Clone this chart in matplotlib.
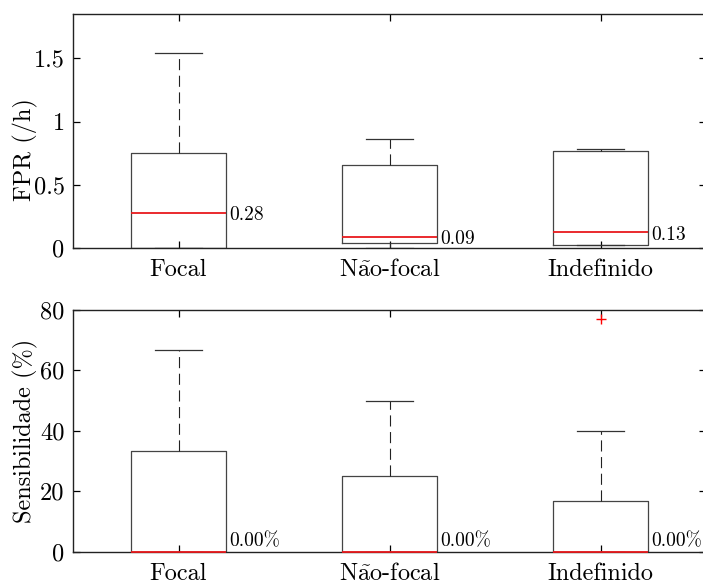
import matplotlib
matplotlib.use("Agg")
import matplotlib.pyplot as plt

# categories and box statistics
groups = ["Focal", "N$\\tilde{\\mathrm{a}}$o-focal", "Indefinido"]

fpr_q1 = [0.0, 0.042, 0.021]
fpr_med = [0.28, 0.09, 0.125]
fpr_q3 = [0.75, 0.66, 0.768]
fpr_lo = [0.0, 0.0, 0.021]
fpr_hi = [1.545, 0.86, 0.784]
fpr_fliers = [[], [], []]
fpr_labels = ["0.28", "0.09", "0.13"]

sens_q1 = [0.0, 0.0, 0.0]
sens_med = [0.0, 0.0, 0.0]
sens_q3 = [33.33, 25.0, 16.67]
sens_lo = [0.0, 0.0, 0.0]
sens_hi = [66.67, 50.0, 40.0]
sens_fliers = [[], [], [77.0]]
sens_labels = ["0.00%", "0.00%", "0.00%"]

plt.rcParams["font.family"] = ["cmr10", "DejaVu Serif"]
plt.rcParams["mathtext.fontset"] = "cm"
plt.rcParams["axes.formatter.use_mathtext"] = True

W, H = 703, 588
fig = plt.figure(figsize=(W / 100, H / 100), dpi=100)

pos = [1, 2, 3]
bw = 0.45
fs = 17.5


def make_stats(q1, med, q3, lo, hi, fl):
    stats = []
    for i in range(len(q1)):
        stats.append(dict(q1=q1[i], med=med[i], q3=q3[i], whislo=lo[i],
                          whishi=hi[i], fliers=fl[i]))
    return stats


def draw_panel(ax, stats):
    out = ax.bxp(stats, positions=pos, widths=bw, capwidths=0.22,
                 showfliers=True,
                 boxprops=dict(color="#444444", linewidth=0.9),
                 medianprops=dict(color="#e8191c", linewidth=1.3, zorder=4),
                 whiskerprops=dict(color="#222222", linewidth=0.8,
                                   linestyle=(0, (10, 5))),
                 capprops=dict(color="#333333", linewidth=0.9),
                 flierprops=dict(marker="+", markeredgecolor="red",
                                 markersize=7, linestyle="none"))
    for m in out["medians"]:
        m.set_clip_on(False)
    ax.set_xlim(0.5, 3.5)
    ax.set_xticks(pos)
    ax.set_xticklabels(groups)
    ax.tick_params(direction="in", length=5, width=0.9, top=True,
                   right=True, labelsize=fs, pad=6)
    ax.tick_params(axis="x", pad=8)
    for s in ax.spines.values():
        s.set_linewidth(1.0)
        s.set_color("#222222")


# top panel: FPR
ax0 = fig.add_axes([73 / W, (H - 248) / H, 633 / W, 234 / H])
draw_panel(ax0, make_stats(fpr_q1, fpr_med, fpr_q3, fpr_lo, fpr_hi, fpr_fliers))
ax0.set_ylim(0, 1.85)
ax0.set_yticks([0, 0.5, 1, 1.5])
ax0.set_yticklabels(["0", "0.5", "1", "1.5"])
ax0.set_ylabel("FPR (/h)", fontsize=fs)
ax0.yaxis.set_label_coords(-0.055, 0.42)
for i in range(3):
    ax0.annotate(fpr_labels[i], (pos[i] + bw / 2, fpr_med[i]),
                 xytext=(2, -2), textcoords="offset points",
                 ha="left", va="center", fontsize=14)

# bottom panel: sensibilidade
ax1 = fig.add_axes([73 / W, (H - 551.7) / H, 633 / W, 241.7 / H])
draw_panel(ax1, make_stats(sens_q1, sens_med, sens_q3, sens_lo, sens_hi, sens_fliers))
ax1.set_ylim(0, 80)
ax1.set_yticks([0, 20, 40, 60, 80])
ax1.set_yticklabels(["0", "20", "40", "60", "80"])
ax1.set_ylabel("Sensibilidade (%)", fontsize=fs)
ax1.yaxis.set_label_coords(-0.055, 0.5)
for i in range(3):
    ax1.annotate(sens_labels[i], (pos[i] + bw / 2, sens_med[i]),
                 xytext=(2, 1), textcoords="offset points",
                 ha="left", va="bottom", fontsize=14)

fig.savefig("out.png", dpi=100)
